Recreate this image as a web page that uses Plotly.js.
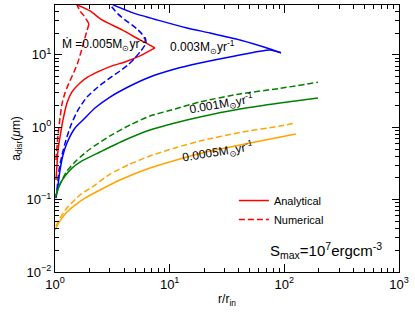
<!DOCTYPE html>
<html>
<head>
<meta charset="utf-8">
<script src="https://cdn.plot.ly/plotly-3.0.1.min.js"></script>
<style>html,body{margin:0;padding:0;background:#fff}#chart{width:415px;height:313px}</style>
</head>
<body>
<div id="chart"></div>
<script>
// Mdot = 0.005 (red): analytical lower & upper branches, numerical lower & upper parts
var rRedALow = [1.02,1.041,1.062,1.106,1.174,1.272,1.406,1.652,1.941,2.468,3.14,4.076,5.51,7.44];
var aRedALow = [0.187,0.301,0.486,0.735,1.262,2.17,3.08,4.10,4.96,6.01,7.05,8.0,9.69,12.5];
var rRedAUp  = [7.44,5.51,3.84,2.57,2.02,1.555];
var aRedAUp  = [12.5,16.1,22.2,30.5,40.6,49.2];
var rRedNLow = [1.02,1.062,1.106,1.151,1.222,1.324,1.465,1.587,1.686,1.79,1.901,1.979];
var aRedNLow = [0.353,0.782,1.346,2.10,2.98,4.10,5.82,8.0,11.0,15.6,21.5,26.9];
var rRedNUp  = [1.979,1.79,1.652,1.555];
var aRedNUp  = [26.9,34.6,40.6,49.2];
// Mdot = 0.003 (blue)
var rBlueALow = [1.02,1.062,1.106,1.174,1.272,1.494,1.754,2.232,3.02,4.51,6.73,11.12,18.37,37.1,74.9,93.4];
var aBlueALow = [0.105,0.159,0.256,0.414,0.607,0.978,1.262,1.85,2.62,3.72,4.96,6.40,7.74,9.69,11.7,10.7];
var rBlueAUp  = [93.4,74.9,41.0,22.46,14.15,7.75,4.79,3.2];
var aBlueAUp  = [10.7,12.1,16.1,20.1,23.6,30.5,38.1,49.2];
var rBlueN = [1.041,1.084,1.151,1.247,1.379,1.587,1.901,2.37,3.02,3.687,4.33,4.98,5.62,6.09,6.21,6.09,5.73,5.29,4.69,4.076,3.54,3.02];
var aBlueN = [0.136,0.256,0.414,0.667,1.076,1.73,2.62,3.60,4.81,6.01,7.28,9.09,11.4,13.7,15.6,17.2,19.5,22.2,26.0,30.5,36.9,49.2];
// Mdot = 0.001 (green)
var rGreenA = [1.0,1.041,1.106,1.222,1.406,1.652,2.468,4.076,6.73,11.12,18.37,41.0,91.5,196.3];
var aGreenA = [0.105,0.127,0.164,0.212,0.273,0.331,0.455,0.667,0.918,1.147,1.388,1.79,2.17,2.54];
var rGreenN = [1.02,1.106,1.272,1.555,2.02,3.02,4.51,6.73,11.12,18.37,41.0,91.5,196.3];
var aGreenN = [0.116,0.164,0.249,0.353,0.501,0.759,1.076,1.43,1.79,2.24,2.89,3.45,4.2];
// Mdot = 0.0005 (orange)
var rOrangeA = [1.0,1.062,1.151,1.272,1.494,1.827,2.468,3.687,6.73,12.29,22.46,50.1,126.2];
var aOrangeA = [0.038,0.046,0.0556,0.0674,0.0842,0.105,0.136,0.187,0.273,0.365,0.470,0.607,0.808];
var rOrangeN = [1.02,1.106,1.272,1.652,2.232,3.02,4.51,6.73,11.12,18.37,41.0,91.5,126.2];
var aOrangeN = [0.0431,0.0556,0.0766,0.116,0.159,0.226,0.310,0.401,0.518,0.646,0.847,1.042,1.147];

var xTickVals = [1,10,100,1000];
var xTickText = ['10<sup>0</sup>','10<sup>1</sup>','10<sup>2</sup>','10<sup>3</sup>'];
var yTickVals = [0.01,0.1,1,10];
var yTickText = ['10<sup>\u22122</sup>','10<sup>\u22121</sup>','10<sup>0</sup>','10<sup>1</sup>'];

function minorVals(decades){var v=[];decades.forEach(function(d){for(var k=2;k<=9;k++)v.push(k*d);});return v;}
var xMinor = minorVals([1,10,100]);
var yMinor = minorVals([0.01,0.1,1,10]).filter(function(v){return v<50;});

var W = 1.5, DASH = '6px,3px';
function tr(x,y,color,dash){return {x:x,y:y,mode:'lines',line:{color:color,width:W,dash:dash||'solid',shape:'spline',smoothing:0.6},showlegend:false,hoverinfo:'skip'};}

var data = [
  tr(rRedALow,aRedALow,'#ff0000'), tr(rRedAUp,aRedAUp,'#ff0000'),
  tr(rRedNLow,aRedNLow,'#ff0000',DASH), tr(rRedNUp,aRedNUp,'#ff0000',DASH),
  tr(rBlueALow,aBlueALow,'#0000ff'), tr(rBlueAUp,aBlueAUp,'#0000ff'),
  tr(rBlueN,aBlueN,'#0000ff',DASH),
  tr(rGreenA,aGreenA,'#008000'), tr(rGreenN,aGreenN,'#008000',DASH),
  tr(rOrangeA,aOrangeA,'#ffa500'), tr(rOrangeN,aOrangeN,'#ffa500',DASH),
  {x:[null],y:[null],mode:'lines',line:{color:'#ff0000',width:W},name:'Analytical'},
  {x:[null],y:[null],mode:'lines',line:{color:'#ff0000',width:W,dash:DASH},name:'Numerical'}
];

var F = 'Liberation Sans, Arial, sans-serif';
var axBase = {type:'log',showline:true,linecolor:'#000',linewidth:1,mirror:'ticks',ticks:'inside',
  tickcolor:'#000',tickwidth:1,showgrid:false,zeroline:false,tickmode:'array',tickfont:{family:F,size:13,color:'#000'}};

var layout = {
  width:415,height:313,margin:{l:55,r:16,t:5,b:41},
  paper_bgcolor:'#fff',plot_bgcolor:'#fff',
  font:{family:F,color:'#000',size:11},
  xaxis:Object.assign({},axBase,{range:[0,3],tickvals:xTickVals,ticktext:xTickText,ticklen:8,
    minor:{tickmode:'array',tickvals:xMinor,ticks:'inside',ticklen:4,tickcolor:'#000',tickwidth:1,showgrid:false},
    title:{text:'r/r<sub>in</sub>',font:{family:F,size:12,color:'#000'},standoff:4}}),
  yaxis:Object.assign({},axBase,{range:[-2,1.69],tickvals:yTickVals,ticktext:yTickText,ticklen:7,
    minor:{tickmode:'array',tickvals:yMinor,ticks:'inside',ticklen:4,tickcolor:'#000',tickwidth:1,showgrid:false},
    title:{text:'a<sub>disr</sub>(<i>\u03bc</i>m)',font:{family:F,size:12,color:'#000'},standoff:3}}),
  showlegend:true,
  legend:{x:0.52,y:0.322,xanchor:'left',yanchor:'top',bgcolor:'rgba(0,0,0,0)',font:{family:F,size:11,color:'#000'},
    tracegroupgap:0,itemwidth:30},
  annotations:[
    {xref:'paper',yref:'paper',x:0.145,y:0.854,xanchor:'center',yanchor:'middle',text:'M\u0307 =0.005M<sub>\u2299</sub>yr<sup>-1</sup>',showarrow:false,font:{family:F,size:12}},
    {xref:'paper',yref:'paper',x:0.430,y:0.843,xanchor:'center',yanchor:'middle',text:'0.003M<sub>\u2299</sub>yr<sup>-1</sup>',showarrow:false,font:{family:F,size:12}},
    {xref:'paper',yref:'paper',x:0.483,y:0.629,xanchor:'center',yanchor:'middle',text:'0.001M<sub>\u2299</sub>yr<sup>-1</sup>',showarrow:false,textangle:-10,font:{family:F,size:12}},
    {xref:'paper',yref:'paper',x:0.471,y:0.449,xanchor:'center',yanchor:'middle',text:'0.0005M<sub>\u2299</sub>yr<sup>-1</sup>',showarrow:false,textangle:-9,font:{family:F,size:12}},
    {xref:'paper',yref:'paper',x:0.788,y:0.082,xanchor:'center',yanchor:'middle',text:'S<sub>max</sub>=10<sup>7</sup>ergcm<sup>-3</sup>',showarrow:false,font:{family:F,size:15}}
  ]
};

Plotly.newPlot('chart',data,layout,{staticPlot:true,displayModeBar:false});
</script>
</body>
</html>
